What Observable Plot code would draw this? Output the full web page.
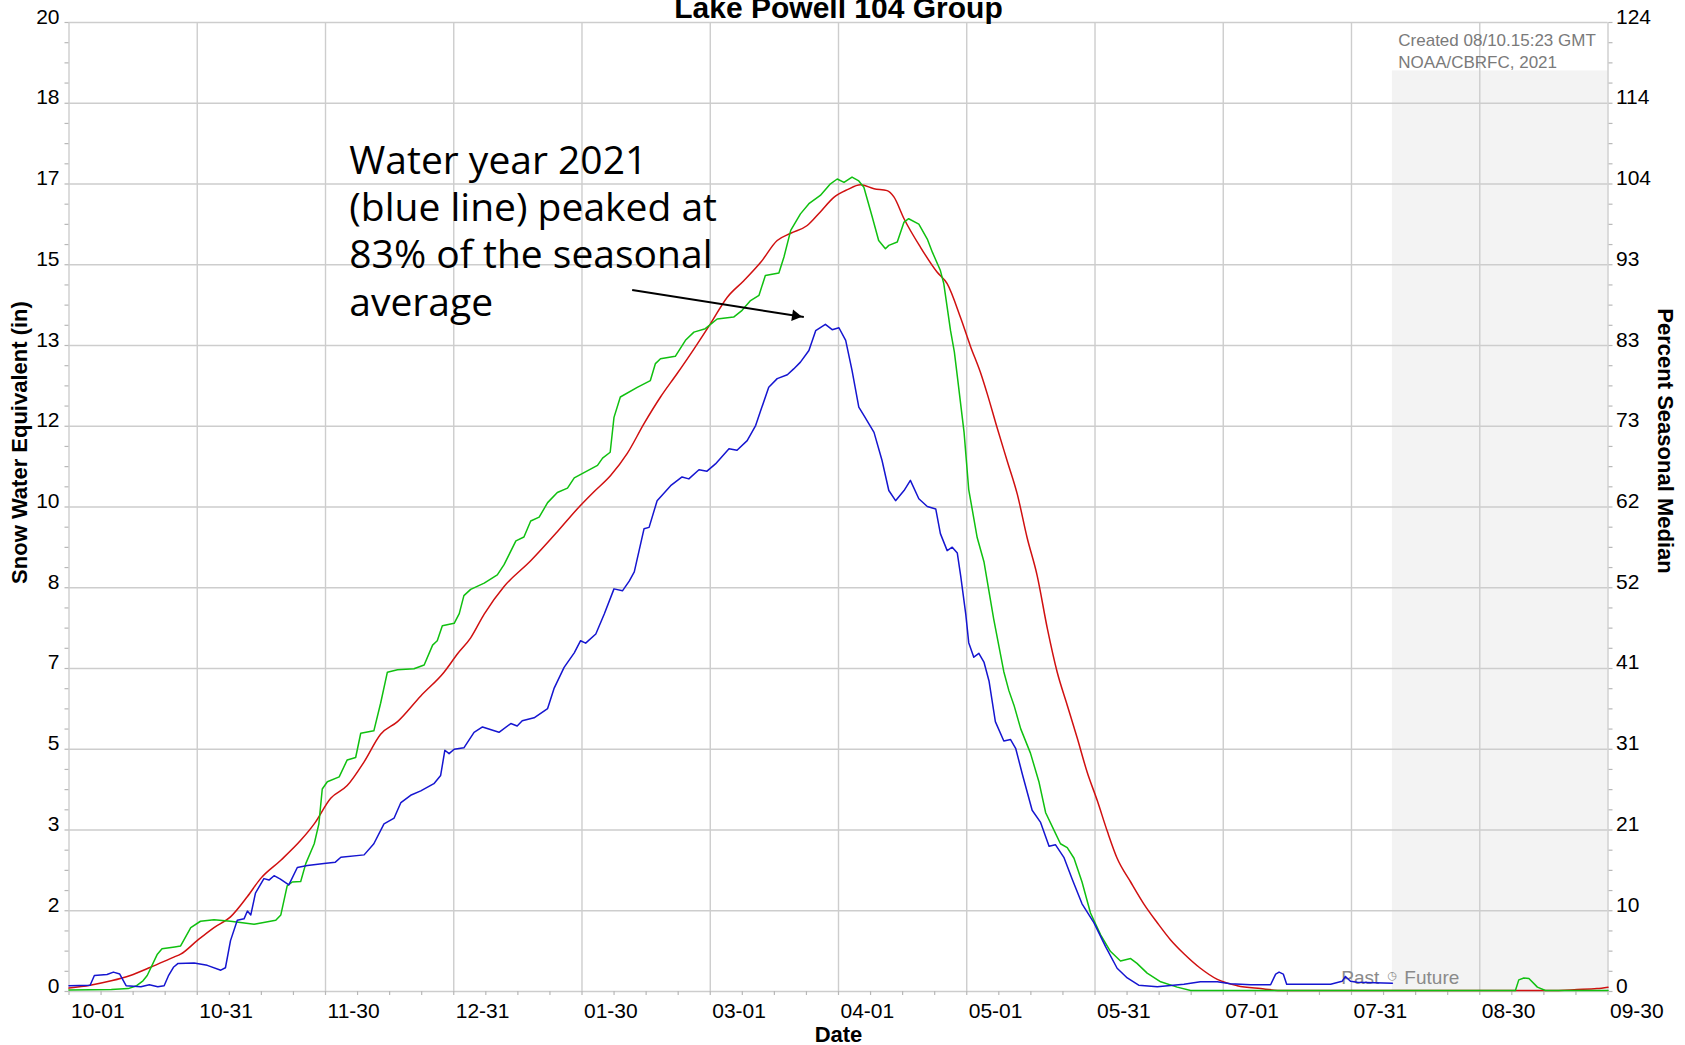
<!DOCTYPE html>
<html><head><meta charset="utf-8">
<script src="https://cdn.jsdelivr.net/npm/d3@7"></script>
<script src="https://cdn.jsdelivr.net/npm/@observablehq/plot@0.6"></script>
<style>
html,body{margin:0;padding:0;background:#fff;}
#chart{width:1685px;height:1045px;overflow:hidden;}
</style></head><body><div id="chart"></div>
<script>
// ---- axis ticks & labels ----
const xTicks = [0, 30.33, 60.67, 91, 121.33, 151.67, 182, 212.33, 242.67, 273, 303.33, 333.67, 364];
const xTickLabels = ["10-01","10-31","11-30","12-31","01-30","03-01","04-01","05-01","05-31","07-01","07-31","08-30","09-30"];
const yTicks = [0, 1.667, 3.333, 5, 6.667, 8.333, 10, 11.667, 13.333, 15, 16.667, 18.333, 20];
const leftLabels = ["0","2","3","5","7","8","10","12","13","15","17","18","20"];
const rightLabels = ["0","10","21","31","41","52","62","73","83","93","104","114","124"];

// ---- series: day of water year (0 = Oct 1) and SWE (in) ----
const blueDays = [0,5,6,9,10.5,12,13.5,17,19,21,22.5,23.5,24.7,25.8,29.6,32.7,35.9,37,38.2,39.8,41.4,42.2,43,44.1,46.1,47.3,48.5,50,52,54,56.4,60.3,63,64.3,69.8,72.1,74.5,76.9,78.5,80.8,83.2,86.3,87.9,88.9,89.9,91.1,93.4,95.8,97.8,101.7,104.5,106,107.2,110,113.2,114.7,117.1,119.5,121,122.2,124.6,126.6,128.9,130.9,132.5,133.7,136,137.2,139.1,142.3,145,146.6,149,150.9,152.9,156.1,158,160.4,162.4,163.6,165.5,167.5,169.9,171.4,173,175,176.6,178.9,180.5,182.1,183.7,185.2,186.8,188,190.4,192.3,193.9,195.5,197.5,199,201,203,205,206.1,207.7,208.9,210.1,210.9,212.1,212.8,214,215.2,216.4,217.6,219.1,221.1,222.7,223.9,225.5,227.8,229.8,231.8,233.3,235.3,237.3,239.6,242.4,245.2,247.9,250.3,253,257.4,263.7,267.6,271.6,274.7,279.5,284.2,285.4,286.2,287.2,288,298.4,301.1,301.9,303.1,304.7,313];
const blueSwe = [0.12,0.13,0.33,0.35,0.40,0.36,0.12,0.10,0.14,0.10,0.12,0.32,0.50,0.58,0.59,0.54,0.44,0.49,1.05,1.47,1.50,1.66,1.58,2.03,2.33,2.30,2.39,2.32,2.20,2.56,2.60,2.64,2.67,2.77,2.82,3.05,3.46,3.58,3.90,4.05,4.14,4.29,4.46,4.98,4.91,5.00,5.03,5.35,5.46,5.35,5.53,5.48,5.59,5.65,5.84,6.25,6.69,6.99,7.24,7.19,7.38,7.79,8.31,8.27,8.47,8.66,9.55,9.58,10.13,10.44,10.62,10.58,10.77,10.74,10.89,11.20,11.17,11.37,11.68,11.99,12.47,12.65,12.73,12.85,12.99,13.23,13.64,13.77,13.66,13.70,13.44,12.82,12.06,11.89,11.54,10.96,10.34,10.13,10.34,10.55,10.17,10.01,9.96,9.45,9.10,9.17,9.05,8.58,7.79,7.20,6.90,6.98,6.80,6.41,5.57,5.17,5.20,5.02,4.48,3.74,3.49,3.00,3.03,2.77,2.31,1.81,1.42,0.92,0.48,0.28,0.13,0.10,0.15,0.20,0.20,0.16,0.14,0.14,0.36,0.40,0.36,0.15,0.15,0.21,0.31,0.21,0.19,0.17];

const greenDays = [0,10,14,16,17.5,18.5,20.9,22,25,26.4,28.8,31.1,34.3,38.2,43.8,48.9,50.1,51.6,52.8,54.8,56,58,59.1,59.9,61.1,63.9,65.8,67.8,69,72.1,73.7,75.3,77.7,81.6,84,86,87.1,88.3,91.1,92.3,93.4,95,98.2,101.3,102.9,105.7,107.6,109.2,111.2,113.2,115.5,117.9,119.5,125,126.2,128,128.9,130.4,134.4,137.5,138.7,139.9,143.4,145.8,147.8,150.5,153.3,157.2,159.2,161.2,163.2,164.7,167.9,169.1,170.7,173,175,177.7,180.1,181.7,183.3,185.2,186.8,188,190,191.5,193.1,193.9,195.9,197.5,198.6,201,203,204.2,206.1,206.9,208.5,209.4,210.1,211.7,212.8,214.8,216.4,218.7,221.1,222.3,223.5,225.1,227.4,229.4,231,232.9,234.5,236.1,237.7,239.6,241.6,244,246.3,248.7,251.1,252.6,255,258.2,262.1,265.3,342.1,342.9,344.1,345.3,347.3,349.2,364];
const greenSwe = [0.03,0.04,0.06,0.12,0.22,0.33,0.77,0.88,0.92,0.94,1.32,1.45,1.48,1.45,1.39,1.47,1.58,2.18,2.26,2.27,2.64,3.05,3.46,4.18,4.33,4.43,4.78,4.83,5.33,5.38,5.95,6.59,6.64,6.66,6.74,7.15,7.24,7.55,7.60,7.80,8.17,8.30,8.43,8.60,8.81,9.30,9.38,9.71,9.79,10.09,10.30,10.39,10.60,10.86,11.01,11.13,11.85,12.27,12.47,12.61,12.96,13.06,13.11,13.44,13.61,13.68,13.88,13.92,14.06,14.26,14.37,14.78,14.83,15.16,15.71,16.05,16.26,16.43,16.67,16.77,16.70,16.81,16.73,16.60,15.98,15.50,15.33,15.40,15.47,15.88,15.95,15.84,15.53,15.26,14.88,14.61,13.64,13.20,12.70,11.54,10.36,9.37,8.87,7.69,6.60,6.21,5.91,5.42,4.92,4.33,3.69,3.34,3.05,2.97,2.75,2.26,1.62,1.17,0.83,0.63,0.68,0.58,0.38,0.20,0.09,0.02,0.02,0.24,0.28,0.27,0.09,0.02,0.02];

const redDays = [0,5,10,14.5,19.3,24.8,26.4,30.3,34.3,38.2,42.2,45.3,50.1,54.8,58,61.9,65.8,69.8,73.7,77.7,83.2,88.7,91.9,95,98.2,102.9,109.2,115.5,120.2,124.1,128.1,132,136,139.9,143.8,147.8,151.7,155.7,159.6,163.6,167.5,170.7,174.6,177.7,180.9,184.1,187.2,190.4,193.5,195.1,197.5,201.4,205.3,207.7,210.9,213.2,215.6,217.2,219.5,221.9,224.3,226.6,229,231.4,233.7,236.1,238.5,240.8,243.2,245.6,247.9,251.1,254.2,257.4,260.5,263.7,267.6,271.6,276.3,281.8,287.3,350.4,356.7,361.4,364];
const redSwe = [0.07,0.13,0.22,0.33,0.50,0.71,0.77,1.05,1.32,1.54,1.96,2.33,2.71,3.12,3.46,3.99,4.25,4.74,5.31,5.57,6.10,6.59,6.97,7.30,7.79,8.36,8.89,9.49,9.96,10.31,10.65,11.10,11.72,12.27,12.75,13.26,13.78,14.33,14.67,15.05,15.50,15.65,15.81,16.09,16.39,16.55,16.65,16.57,16.53,16.40,15.95,15.36,14.85,14.61,13.90,13.32,12.77,12.33,11.64,10.95,10.26,9.37,8.58,7.49,6.60,5.91,5.22,4.53,3.94,3.30,2.75,2.26,1.81,1.42,1.07,0.78,0.48,0.25,0.12,0.06,0.02,0.02,0.04,0.06,0.09];

// ---- annotations ----
const noteLines = ["Water year 2021", "(blue line) peaked at", "83% of the seasonal", "average"];
const noteAt = [{day: 66.3, swe: 13.95}];
const arrowAt = [{x1: 133.2, y1: 14.48, x2: 173.8, y2: 13.92}];
const createdLines = ["Created 08/10.15:23 GMT", "NOAA/CBRFC, 2021"];
const createdAt = [{day: 314.4, swe: 19.07}];
const futureSpan = [{start: 313, end: 364, bottom: 0, top: 19.0}];
const nowAt = [{day: 313, swe: 0.165}];

const rows = (days, vals) => days.map((d, i) => ({day: d, swe: vals[i]}));
const blue = rows(blueDays, blueSwe), green = rows(greenDays, greenSwe), red = rows(redDays, redSwe);
const minorX = d3.range(49).map(i => i * 364 / 48);
const minorY = d3.range(49).map(i => i * 20 / 48);
const tickStyle = {tickSize: 4, tickFormat: () => "", stroke: "#b8b8b8", strokeWidth: 1.2, label: null};
const grid = "#cdcdcd";
const sans = "'Liberation Sans', Arial, sans-serif";

const plot = Plot.plot({
  width: 1685, height: 1045,
  marginLeft: 68.5, marginRight: 77.5, marginTop: 22, marginBottom: 54,
  x: {domain: [0, 364]},
  y: {domain: [0, 20]},
  style: {fontFamily: sans, background: "#fff", color: "#000"},
  marks: [
    Plot.rect(futureSpan, {x1: "start", x2: "end", y1: "bottom", y2: "top", fill: "#f3f3f3"}),
    Plot.ruleY(yTicks, {stroke: grid, strokeWidth: 1.4}),
    Plot.ruleX(xTicks, {stroke: grid, strokeWidth: 1.4}),
    Plot.axisY(minorY, {anchor: "left", ...tickStyle}),
    Plot.axisY(minorY, {anchor: "right", ...tickStyle}),
    Plot.axisX(minorX, {anchor: "bottom", ...tickStyle}),
    Plot.text(yTicks, {y: d => d, text: (d, i) => leftLabels[i], frameAnchor: "left", textAnchor: "end", lineAnchor: "bottom", dx: -9.5, dy: 1, fontSize: 21}),
    Plot.text(yTicks, {y: d => d, text: (d, i) => rightLabels[i], frameAnchor: "right", textAnchor: "start", lineAnchor: "bottom", dx: 8, dy: 1, fontSize: 21}),
    Plot.text(xTicks, {x: d => d, text: (d, i) => xTickLabels[i], frameAnchor: "bottom", textAnchor: "start", lineAnchor: "top", dx: 2, dy: 12, fontSize: 21}),
    Plot.text(nowAt, {x: "day", y: "swe", text: () => "Past", textAnchor: "end", lineAnchor: "bottom", dx: -13, fill: "#8a8a8a", fontSize: 19}),
    Plot.text(nowAt, {x: "day", y: "swe", text: () => "Future", textAnchor: "start", lineAnchor: "bottom", dx: 12, fill: "#8a8a8a", fontSize: 19}),
    Plot.text(nowAt, {x: "day", y: "swe", text: () => "\u25F7", textAnchor: "middle", lineAnchor: "middle", dy: -8, fill: "#8a8a8a", fontSize: 11, fontFamily: "DejaVu Sans"}),
    Plot.text(createdAt, {x: "day", y: "swe", text: () => createdLines.join("\n"), textAnchor: "start", lineAnchor: "bottom", lineHeight: 1.29, fill: "#7a7a7a", fontSize: 17}),
    Plot.line(red, {x: "day", y: "swe", stroke: "#d01010", strokeWidth: 1.5, curve: "monotone-x"}),
    Plot.line(green, {x: "day", y: "swe", stroke: "#10c010", strokeWidth: 1.5}),
    Plot.line(blue, {x: "day", y: "swe", stroke: "#1515d0", strokeWidth: 1.5}),
    Plot.text(noteAt, {x: "day", y: "swe", text: () => noteLines.join("\n"), textAnchor: "start", lineAnchor: "bottom", lineHeight: 1.213, fontSize: 39, fontFamily: "'Open Sans', 'Noto Sans', sans-serif", fill: "#000"}),
    Plot.link(arrowAt, {x1: "x1", y1: "y1", x2: "x2", y2: "y2", stroke: "#000", strokeWidth: 2}),
    Plot.dot(arrowAt, {x: "x2", y: "y2", symbol: "triangle2", r: 5.5, rotate: 99, dx: -8.4, dy: -1.3, fill: "#000", stroke: "none"}),
    Plot.text(["Lake Powell 104 Group"], {frameAnchor: "top", text: d => d, lineAnchor: "bottom", dy: -5, fontSize: 30, fontWeight: "bold"}),
    Plot.text(["Snow Water Equivalent (in)"], {frameAnchor: "left", text: d => d, rotate: -90, textAnchor: "middle", lineAnchor: "middle", dx: -49.5, dy: -64.5, fontSize: 22, fontWeight: "bold"}),
    Plot.text(["Percent Seasonal Median"], {frameAnchor: "right", text: d => d, rotate: 90, textAnchor: "middle", lineAnchor: "middle", dx: 57.5, dy: -66, fontSize: 22, fontWeight: "bold"}),
    Plot.text(["Date"], {frameAnchor: "bottom", text: d => d, lineAnchor: "bottom", dy: 50, fontSize: 22, fontWeight: "bold"})
  ]
});
document.getElementById("chart").appendChild(plot);
</script></body></html>
